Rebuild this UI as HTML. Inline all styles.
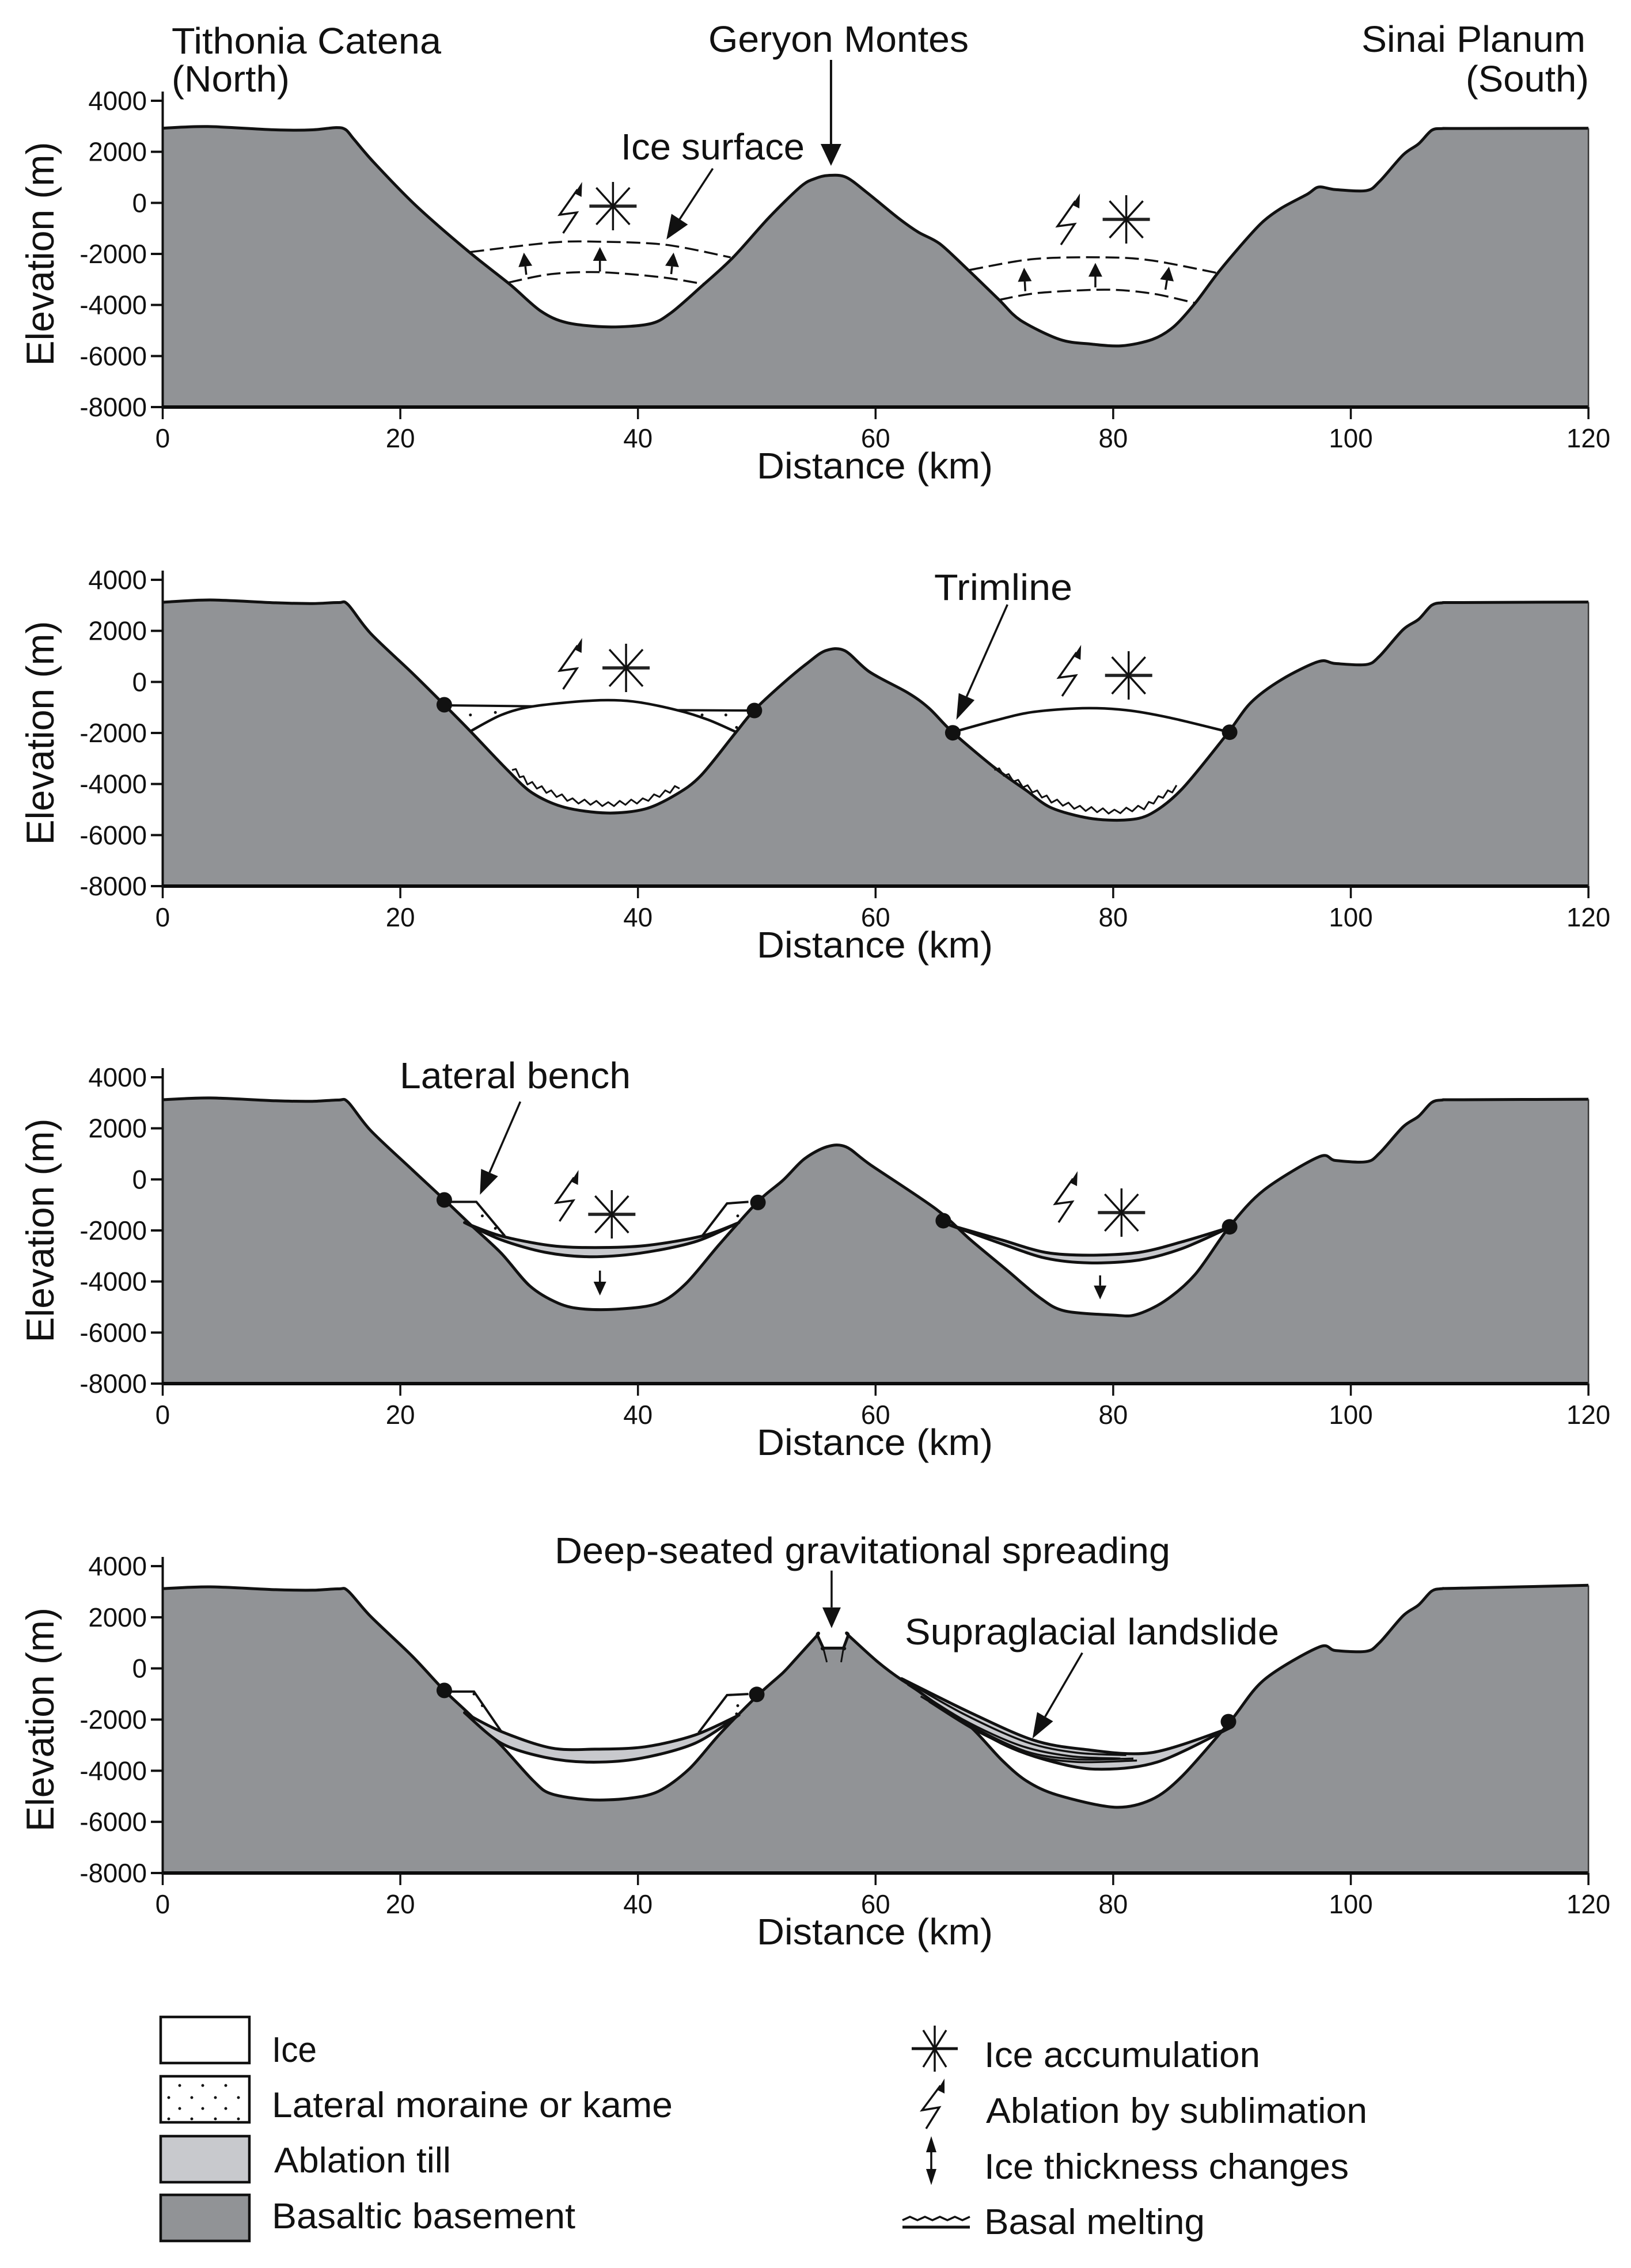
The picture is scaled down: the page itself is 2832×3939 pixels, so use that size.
<!DOCTYPE html>
<html lang="en">
<head>
<meta charset="utf-8">
<title>Geryon Montes glacial cross-sections</title>
<style>
html,body{margin:0;padding:0;background:#fff}
svg{display:block}
text{font-family:"Liberation Sans",sans-serif;fill:#111}
</style>
</head>
<body>
<svg id="figure" xmlns="http://www.w3.org/2000/svg" width="2832" height="3939" viewBox="0 0 2832 3939">
<rect width="2832" height="3939" fill="#fff"/>
<g id="charts"></g>

<g font-size="64">
<text x="298" y="93" textLength="468" lengthAdjust="spacingAndGlyphs">Tithonia Catena</text>
<text x="298" y="159" textLength="205" lengthAdjust="spacingAndGlyphs">(North)</text>
<text x="1230" y="90" textLength="452" lengthAdjust="spacingAndGlyphs">Geryon Montes</text>
<text x="2364" y="90" textLength="389" lengthAdjust="spacingAndGlyphs">Sinai Planum</text>
<text x="2545" y="159" textLength="214" lengthAdjust="spacingAndGlyphs">(South)</text>
<text x="1078" y="277" textLength="319" lengthAdjust="spacingAndGlyphs">Ice surface</text>
<text x="1622" y="1042" textLength="240" lengthAdjust="spacingAndGlyphs">Trimline</text>
<text x="694" y="1890" textLength="401" lengthAdjust="spacingAndGlyphs">Lateral bench</text>
<text x="963" y="2715" textLength="1069" lengthAdjust="spacingAndGlyphs">Deep-seated gravitational spreading</text>
<text x="1571" y="2856" textLength="650" lengthAdjust="spacingAndGlyphs">Supraglacial landslide</text>
</g>

<g font-size="62">
<rect x="279" y="3503" width="154" height="80" fill="#fff" stroke="#111" stroke-width="4.5"/>
<rect x="279" y="3606" width="154" height="80" fill="#fff" stroke="#111" stroke-width="4.5"/>
<g fill="#111">
<circle cx="312" cy="3622" r="2.5"/><circle cx="352" cy="3622" r="2.5"/><circle cx="392" cy="3622" r="2.5"/>
<circle cx="293" cy="3643" r="2.5"/><circle cx="333" cy="3643" r="2.5"/><circle cx="374" cy="3643" r="2.5"/><circle cx="414" cy="3643" r="2.5"/>
<circle cx="312" cy="3662" r="2.5"/><circle cx="352" cy="3662" r="2.5"/><circle cx="392" cy="3662" r="2.5"/>
<circle cx="293" cy="3680" r="2.5"/><circle cx="333" cy="3680" r="2.5"/><circle cx="374" cy="3680" r="2.5"/><circle cx="414" cy="3680" r="2.5"/>
</g>
<rect x="279" y="3710" width="154" height="80" fill="#c8c9cd" stroke="#111" stroke-width="4.5"/>
<rect x="279" y="3812" width="154" height="80" fill="#919396" stroke="#111" stroke-width="4.5"/>
<text x="472" y="3581" textLength="78" lengthAdjust="spacingAndGlyphs">Ice</text>
<text x="472" y="3677" textLength="696" lengthAdjust="spacingAndGlyphs">Lateral moraine or kame</text>
<text x="476" y="3773" textLength="307" lengthAdjust="spacingAndGlyphs">Ablation till</text>
<text x="472" y="3870" textLength="527" lengthAdjust="spacingAndGlyphs">Basaltic basement</text>

<g stroke="#111" stroke-width="3.5" fill="none">
<line x1="1583" y1="3558" x2="1663" y2="3558" stroke-width="5"/><line x1="1623" y1="3518" x2="1623" y2="3598"/>
<line x1="1603" y1="3526" x2="1643" y2="3590"/><line x1="1643" y1="3526" x2="1603" y2="3590"/>
</g>
<g>
<polyline points="1608,3697 1631,3660 1601,3665 1633,3622" fill="none" stroke="#111" stroke-width="3.5"/>
<polygon points="1640,3610 1640,3636 1628,3630" fill="#111"/>
</g>
<g>
<line x1="1617" y1="3725" x2="1617" y2="3780" stroke="#111" stroke-width="3.5"/>
<polygon points="1617,3710 1626,3738 1608,3738" fill="#111"/><polygon points="1617,3795 1626,3767 1608,3767" fill="#111"/>
</g>
<g fill="none" stroke="#111">
<polyline points="1567,3856 1580,3850 1593,3856 1606,3850 1619,3856 1632,3850 1645,3856 1658,3850 1671,3856 1684,3850" stroke-width="3.5"/>
<line x1="1567" y1="3868" x2="1684" y2="3868" stroke-width="5"/>
</g>
<text x="1709" y="3590" textLength="479" lengthAdjust="spacingAndGlyphs">Ice accumulation</text>
<text x="1712" y="3687" textLength="662" lengthAdjust="spacingAndGlyphs">Ablation by sublimation</text>
<text x="1709" y="3784" textLength="633" lengthAdjust="spacingAndGlyphs">Ice thickness changes</text>
<text x="1709" y="3880" textLength="383" lengthAdjust="spacingAndGlyphs">Basal melting</text>
</g>
</svg>

<script>
/* ---------- shared axis values ---------- */
const xTickValues = [0, 20, 40, 60, 80, 100, 120];
const yTickValues = [4000, 2000, 0, -2000, -4000, -6000, -8000];
const xTickLabels = ['0', '20', '40', '60', '80', '100', '120'];
const yTickLabels = ['4000', '2000', '0', '-2000', '-4000', '-6000', '-8000'];

/* ---------- panel 1 ---------- */
const p1Km = [0,3.8,9.5,12.6,14.6,15.4,16.1,17.8,21.3,25.7,29.2,31.8,34,37.5,41,42.8,45.4,48,51,53.7,54.9,56,57.5,59.3,61.9,63.6,65.4,67.8,70.4,72.2,75.5,78.1,80.7,83.3,85.1,86.9,88.8,90.8,92.5,94.1,96.3,97.3,98.7,101.3,102.4,104.4,105.7,106.8,107.7,109,120];
const p1Elev = [2926,2990,2860,2860,2950,2870,2490,1570,-100,-1890,-3185,-4230,-4690,-4860,-4740,-4300,-3250,-2140,-590,640,950,1075,1010,395,-590,-1150,-1600,-2630,-3800,-4600,-5350,-5530,-5600,-5350,-4850,-3930,-2750,-1640,-780,-220,330,620,520,480,830,1880,2310,2840,2910,2915,2925];
const p1UpperLeftKm = [25.9,32.7,36.6,42.3,47.8];
const p1UpperLeftElev = [-1926,-1555,-1520,-1640,-2135];
const p1LowerLeftKm = [29.1,32.7,36.8,41.9,45.6];
const p1LowerLeftElev = [-3120,-2790,-2716,-2910,-3185];
const p1UpperRightKm = [67.9,73.3,79.4,83.3,88.8];
const p1UpperRightElev = [-2630,-2200,-2135,-2260,-2750];
const p1LowerRightKm = [70.4,73.7,79.4,83.3,86.9];
const p1LowerRightElev = [-3800,-3530,-3400,-3555,-3925];
const p1RiseFromKm = [30.6,36.8,42.8,72.6,78.5,84.4];
const p1RiseFromElev = [-2815,-2690,-2790,-3460,-3310,-3400];
const p1RiseToKm = [30.4,36.8,43,72.5,78.5,84.7];
const p1RiseToElev = [-1950,-1730,-1950,-2540,-2350,-2500];

/* ---------- panel 2 ---------- */
const p2Km = [0,4,9.5,12.6,14.8,15.6,17.5,21,23.7,25.9,29,31.1,33.8,37.4,40.6,43.2,45.3,48.2,49.8,52.2,54.3,55.8,57.4,59.5,62.7,64.5,66.5,70,72.7,74.8,78,81.1,83.2,85.8,89.5,91.6,94.2,97.3,98.7,101.3,102.4,104.4,105.7,106.8,107.7,109,120];
const p2Elev = [3120,3210,3100,3070,3110,3030,1900,350,-895,-1932,-3444,-4346,-4910,-5136,-4978,-4414,-3670,-2000,-1098,-60,750,1225,1225,390,-420,-1030,-1978,-3354,-4256,-4933,-5340,-5407,-5158,-4190,-2090,-805,98,800,720,680,1000,2050,2450,3000,3100,3110,3130];
const p2IceLeftKm = [25.9,28.5,31.2,36.2,39.6,43.3,45.9,48.3];
const p2IceLeftElev = [-1933,-1294,-956,-730,-767,-1106,-1482,-1971];
const p2IceRightKm = [66.5,70,73.2,77.4,81.1,84.8,89.8];
const p2IceRightElev = [-1970,-1520,-1181,-1031,-1106,-1407,-1971];
const p2MoraineLeftKm = [23.8,31.2];
const p2MoraineLeftElev = [-918,-956];
const p2MoraineRightKm = [43.3,49.6];
const p2MoraineRightElev = [-1106,-1121];
const p2MeltLeftKm = [29.4,30.7,32.7,34.5,37.5,40.4,42.3,43.9];
const p2MeltLeftElev = [-3362,-3926,-4340,-4650,-4800,-4650,-4340,-4001];
const p2MeltRightKm = [70,72.4,74.8,77.2,80.1,82.6,84.6,85.7];
const p2MeltRightElev = [-3362,-4039,-4640,-4941,-5092,-4904,-4340,-4039];
const p2DotKm = [23.7,49.8,66.5,89.8];
const p2DotElev = [-895,-1121,-1993,-1971];
const p2GrainKm = [25.9,28,45.4,47.4,48.3];
const p2GrainElev = [-1294,-1196,-1294,-1294,-1783];

/* ---------- panel 3 ---------- */
const p3Km = [0,4,9.5,12.6,14.8,15.6,17.5,21,23.7,25.9,28.5,30.9,33.3,35.4,38.5,41.7,44,46.9,50.1,52.2,54,55.9,57.5,59.6,65.1,68,71.1,73.8,75.9,80.1,81.9,84.3,86.9,89.8,92.7,97.3,98.7,101.3,102.4,104.4,105.7,106.8,107.7,109,120];
const p3Elev = [3120,3190,3080,3060,3110,3030,1917,380,-790,-1768,-2896,-4174,-4851,-5077,-5077,-4851,-4099,-2520,-866,-38,800,1278,1278,563,-1166,-2370,-3573,-4626,-5152,-5317,-5302,-4776,-3723,-1843,-414,880,740,690,1020,2060,2470,3010,3110,3120,3140];
const p3TillTopLeftKm = [25.4,28.5,32.7,36.4,40.6,45.4,48.5];
const p3TillTopLeftElev = [-1693,-2219,-2595,-2670,-2595,-2219,-1693];
const p3TillBaseLeftKm = [25.4,28.5,32.2,35.9,40.1,44.8,48.5];
const p3TillBaseLeftElev = [-1693,-2370,-2858,-3031,-2896,-2445,-1693];
const p3TillTopRightKm = [66.1,70.6,74.3,78,82.2,85.8,89.8];
const p3TillTopRightElev = [-1768,-2370,-2859,-2971,-2859,-2445,-1881];
const p3TillBaseRightKm = [66.1,70.6,74.3,78,82.2,85.8,89.8];
const p3TillBaseRightElev = [-1768,-2520,-3084,-3272,-3159,-2708,-1881];
const p3BenchLeftKm = [24.3,26.4,28.8];
const p3BenchLeftElev = [-881,-881,-2219];
const p3BenchRightKm = [49.3,47.5,45.4];
const p3BenchRightElev = [-881,-941,-2219];
const p3DotKm = [23.7,50.1,65.7,89.8];
const p3DotElev = [-805,-903,-1618,-1858];
const p3GrainKm = [26.9,28,48.4];
const p3GrainElev = [-1430,-1919,-1430];
const p3DropKm = [36.8,78.9];
const p3DropFromElev = [-3573,-3761];
const p3DropToElev = [-4550,-4701];

/* ---------- panel 4 ---------- */
const p4Km = [0,4,9.5,12.6,14.8,15.6,17.5,21,23.7,25.9,28.5,31.2,32.7,35.9,39.1,41.7,44.3,46.9,50.1,52.2,53.3,55.1,55.1,55.6,55.6,57.3,57.3,57.7,57.7,60.1,62.2,65.1,68,70.6,72.7,75.3,80.1,83.2,85.8,89.8,92.7,97.3,98.7,101.3,102.4,104.4,105.7,106.8,107.7,109,120];
const p4Elev = [3120,3190,3080,3060,3110,3030,2034,480,-860,-1825,-3020,-4398,-4903,-5133,-5087,-4811,-3938,-2560,-1044,-171,380,1299,1299,794,794,794,794,1299,1299,288,-447,-1274,-2284,-3571,-4398,-4949,-5427,-5133,-4214,-2100,-447,830,700,670,1000,2060,2480,3020,3120,3135,3250];
const p4TillTopLeftKm = [25.4,28.5,32.7,36.4,40.6,44.8,48.5];
const p4TillTopLeftElev = [-1733,-2468,-3111,-3157,-3065,-2606,-1825];
const p4TillBaseLeftKm = [25.4,28.5,32.2,35.9,40.1,44.8,48.5];
const p4TillBaseLeftElev = [-1733,-2927,-3479,-3663,-3525,-2927,-1825];
const p4TillTopRightKm = [62.2,68,73.2,77.4,83.2,89.8];
const p4TillTopRightElev = [-401,-1733,-2790,-3157,-3295,-2330];
const p4TillBaseRightKm = [62.2,65.9,70.6,74.3,78.5,83.7,89.8];
const p4TillBaseRightElev = [-401,-1641,-2927,-3571,-3938,-3663,-2330];
const p4Slide1Km = [62.2,67.4,72.7,76.9,81.1];
const p4Slide1Elev = [-401,-1779,-2881,-3295,-3387];
const p4Slide2Km = [62.7,67.4,72.2,76.4,80.6];
const p4Slide2Elev = [-631,-2009,-3020,-3433,-3525];
const p4Slide3Km = [63.8,68,72.7,76.9,81.7];
const p4Slide3Elev = [-1090,-2238,-3249,-3553,-3525];
const p4Slide4Km = [64.5,68.5,73,77,82];
const p4Slide4Elev = [-1300,-2450,-3370,-3660,-3600];
const p4BenchLeftKm = [24.3,26.2,28.5];
const p4BenchLeftElev = [-906,-906,-2468];
const p4BenchRightKm = [49.3,47.5,45.1];
const p4BenchRightElev = [-1000,-1044,-2514];
const p4DotKm = [23.7,50,89.7];
const p4DotElev = [-860,-1016,-2082];
const p4GrainKm = [26.2,26.9,48.4,48.3];
const p4GrainElev = [-1000,-1457,-1457,-1779];
const p4FaultLeftKm = [55.6,55.9];
const p4FaultRightKm = [57.3,57.1];
const p4FaultElev = [794,242];

/* ---------- process symbols ---------- */
const p1StarKm = [37.9,81.1];
const p1StarElev = [-128,-647];
const p1BoltKm = [33.7,75.6];
const p1BoltElev = [-1188,-1640];
const p2StarKm = [39,81.3];
const p2StarElev = [549,255];
const p2BoltKm = [33.7,75.7];
const p2BoltElev = [-286,-557];
const p3StarKm = [37.8,80.7];
const p3StarElev = [-1369,-1301];
const p3BoltKm = [33.4,75.4];
const p3BoltElev = [-1640,-1685];

/* ---------- axis scales ---------- */
const NS = 'http://www.w3.org/2000/svg';
const root = document.getElementById('charts');
const panelTop = [175, 1007, 1871, 2720];
const panelBottom = [707, 1539, 2403, 3253];
const xScale = km => 282.5 + km * 20.63;
const yScale = (p, elev) => panelTop[p] + (4000 - elev) * (panelBottom[p] - panelTop[p]) / 12000;

function el(tag, attrs, parent) {
  const n = document.createElementNS(NS, tag);
  for (const k in attrs) n.setAttribute(k, attrs[k]);
  (parent || root).appendChild(n);
  return n;
}
function curve(p, kms, elevs) {
  const pts = kms.map((k, i) => [xScale(k), yScale(p, elevs[i])]);
  let d = 'M' + pts[0][0].toFixed(1) + ' ' + pts[0][1].toFixed(1);
  const t = 6.5;
  for (let i = 0; i < pts.length - 1; i++) {
    const a = pts[Math.max(0, i - 1)], b = pts[i], c = pts[i + 1], e = pts[Math.min(pts.length - 1, i + 2)];
    d += ' C' + (b[0] + (c[0] - a[0]) / t).toFixed(1) + ' ' + (b[1] + (c[1] - a[1]) / t).toFixed(1) + ' ' +
         (c[0] - (e[0] - b[0]) / t).toFixed(1) + ' ' + (c[1] - (e[1] - b[1]) / t).toFixed(1) + ' ' +
         c[0].toFixed(1) + ' ' + c[1].toFixed(1);
  }
  return d;
}
function straight(p, kms, elevs) {
  return 'M' + kms.map((k, i) => xScale(k).toFixed(1) + ' ' + yScale(p, elevs[i]).toFixed(1)).join(' L');
}
function arrow(parent, x1, y1, x2, y2, len, wid, sw) {
  const a = Math.atan2(y2 - y1, x2 - x1), ux = Math.cos(a), uy = Math.sin(a);
  const bx = x2 - ux * len, by = y2 - uy * len;
  el('line', {x1: x1, y1: y1, x2: bx, y2: by, stroke: '#111', 'stroke-width': sw}, parent);
  el('polygon', {points: x2 + ',' + y2 + ' ' + (bx - uy * wid / 2) + ',' + (by + ux * wid / 2) + ' ' + (bx + uy * wid / 2) + ',' + (by - ux * wid / 2), fill: '#111'}, parent);
}
function star(parent, cx, cy) {
  el('line', {x1: cx - 41, y1: cy, x2: cx + 41, y2: cy, stroke: '#222', 'stroke-width': 5.5}, parent);
  el('line', {x1: cx, y1: cy - 42, x2: cx, y2: cy + 42, stroke: '#111', 'stroke-width': 3.5}, parent);
  el('line', {x1: cx - 29, y1: cy - 32, x2: cx + 29, y2: cy + 32, stroke: '#111', 'stroke-width': 3.5}, parent);
  el('line', {x1: cx + 29, y1: cy - 32, x2: cx - 29, y2: cy + 32, stroke: '#111', 'stroke-width': 3.5}, parent);
}
function bolt(parent, bx, by) {
  el('polyline', {points: bx + ',' + by + ' ' + (bx + 24) + ',' + (by - 36) + ' ' + (bx - 6) + ',' + (by - 32) + ' ' + (bx + 25) + ',' + (by - 76), fill: 'none', stroke: '#111', 'stroke-width': 3.5}, parent);
  el('polygon', {points: (bx + 33) + ',' + (by - 89) + ' ' + (bx + 32) + ',' + (by - 63) + ' ' + (bx + 20) + ',' + (by - 69), fill: '#111'}, parent);
}
function wavy(parent, p, kms, elevs) {
  const pts = kms.map((k, i) => [xScale(k), yScale(p, elevs[i])]);
  let out = '', sign = 1;
  for (let i = 0; i < pts.length - 1; i++) {
    const dx = pts[i + 1][0] - pts[i][0], dy = pts[i + 1][1] - pts[i][1], L = Math.hypot(dx, dy);
    const n = Math.max(1, Math.round(L / 10));
    for (let j = 0; j < n; j++) {
      const f = j / n;
      out += (pts[i][0] + dx * f).toFixed(1) + ',' + (pts[i][1] + dy * f + sign * 4).toFixed(1) + ' ';
      sign = -sign;
    }
  }
  return el('polyline', {points: out, fill: 'none', stroke: '#111', 'stroke-width': 3, 'stroke-linejoin': 'round'}, parent);
}
function till(parent, p, topKm, topElev, baseKm, baseElev) {
  const a = curve(p, topKm, topElev);
  const revKm = baseKm.slice().reverse(), revElev = baseElev.slice().reverse();
  const b = curve(p, revKm, revElev);
  return el('path', {d: a + ' L' + b.slice(1) + ' Z', fill: '#c8c9cd', stroke: '#111', 'stroke-width': 5, 'stroke-linejoin': 'round'}, parent);
}
function dots(parent, p, kms, elevs, r) {
  kms.forEach((k, i) => {
    const c = el('circle', {cx: xScale(k), cy: yScale(p, elevs[i]), r: r, fill: '#111'}, parent);
    
    
  });
}

/* ---------- base panel: basement + axes ---------- */
function basePanel(p, kms, elevs) {
  const g = el('g', {});
  
  
  const top = curve(p, kms, elevs);
  const fill = el('path', {d: top + ' L' + xScale(120) + ' ' + yScale(p, -8000) + ' L' + xScale(0) + ' ' + yScale(p, -8000) + ' Z', fill: '#919396'}, g);
  
  
  const line = el('path', {d: top, fill: 'none', stroke: '#111', 'stroke-width': 5, 'stroke-linejoin': 'round'}, g);
  
  
  const yAxis = el('line', {x1: xScale(0), y1: yScale(p, 4000) - 16, x2: xScale(0), y2: yScale(p, -8000), stroke: '#111', 'stroke-width': 4}, g);
  
  
  const xAxis = el('line', {x1: xScale(0) - 2, y1: yScale(p, -8000), x2: xScale(120) + 1, y2: yScale(p, -8000), stroke: '#0c0c0c', 'stroke-width': 6}, g);
  
  
  const edge = el('line', {x1: xScale(120), y1: yScale(p, elevs[elevs.length - 1]), x2: xScale(120), y2: yScale(p, -8000), stroke: '#333', 'stroke-width': 2.5}, g);
  
  
  yTickValues.forEach((v, i) => {
    const y = yScale(p, v);
    const tick = el('line', {x1: 262, y1: y, x2: xScale(0), y2: y, stroke: '#111', 'stroke-width': 4}, g);
    
    
    const lab = yTickLabels[i];
    const t = el('text', {x: 255, y: y + 16, 'font-size': 46, 'text-anchor': 'end', textLength: (lab.replace('-', '').length * 25.4 + (lab[0] === '-' ? 15 : 0)), lengthAdjust: 'spacingAndGlyphs'}, g);
    t.textContent = lab;
    
    
  });
  xTickValues.forEach((v, i) => {
    const x = xScale(v), y = yScale(p, -8000);
    const tick = el('line', {x1: x, y1: y, x2: x, y2: y + 21, stroke: '#111', 'stroke-width': 3.5}, g);
    
    
    const t = el('text', {x: x, y: y + 70, 'font-size': 46, 'text-anchor': 'middle', textLength: xTickLabels[i].length * 25.4, lengthAdjust: 'spacingAndGlyphs'}, g);
    t.textContent = xTickLabels[i];
    
    
  });
  const xt = el('text', {x: 1314, y: yScale(p, -8000) + 124, 'font-size': 64, textLength: 410, lengthAdjust: 'spacingAndGlyphs'}, g);
  xt.textContent = 'Distance (km)';
  
  
  const cy = (yScale(p, 4000) + yScale(p, -8000)) / 2;
  const yt = el('text', {x: 0, y: 0, 'font-size': 68, 'text-anchor': 'middle', textLength: 389, lengthAdjust: 'spacingAndGlyphs', transform: 'translate(93 ' + cy + ') rotate(-90)'}, g);
  yt.textContent = 'Elevation (m)';
  
  
  return g;
}
function symbols(g, p, starKm, starElev, boltKm, boltElev) {
  starKm.forEach((k, i) => {
    const s = el('g', {}, g);
    
    
    star(s, xScale(k), yScale(p, starElev[i]));
  });
  boltKm.forEach((k, i) => {
    const s = el('g', {}, g);
    
    
    bolt(s, xScale(k), yScale(p, boltElev[i]));
  });
}
function stroke(g, p, kms, elevs, name, extra) {
  const a = {d: curve(p, kms, elevs), fill: 'none', stroke: '#111', 'stroke-width': 4.5};
  for (const k in extra) a[k] = extra[k];
  const n = el('path', a, g);
  
  
  return n;
}
function bench(g, p, kms, elevs, name) {
  const n = el('path', {d: straight(p, kms, elevs), fill: 'none', stroke: '#111', 'stroke-width': 4, 'stroke-linejoin': 'miter'}, g);
  
  
  return n;
}
function callout(g, p, km1, e1, km2, e2, len, wid, name, sw) {
  const a = el('g', {}, g);
  
  
  arrow(a, xScale(km1), yScale(p, e1), xScale(km2), yScale(p, e2), len, wid, sw || 3.5);
}

/* ---------- panel 1 marks ---------- */
(function () {
  const p = 0, g = basePanel(p, p1Km, p1Elev);
  const dash = {'stroke-dasharray': '24 10', 'stroke-width': 3.5};
  stroke(g, p, p1UpperLeftKm, p1UpperLeftElev, 'ice-surface-upper-left', dash);
  stroke(g, p, p1LowerLeftKm, p1LowerLeftElev, 'ice-surface-lower-left', dash);
  stroke(g, p, p1UpperRightKm, p1UpperRightElev, 'ice-surface-upper-right', dash);
  stroke(g, p, p1LowerRightKm, p1LowerRightElev, 'ice-surface-lower-right', dash);
  p1RiseFromKm.forEach((k, i) => {
    callout(g, p, k, p1RiseFromElev[i], p1RiseToKm[i], p1RiseToElev[i], 24, 24, 'ice-thickening-arrow', 3.5);
  });
  symbols(g, p, p1StarKm, p1StarElev, p1BoltKm, p1BoltElev);
  callout(g, p, 56.25, 5602, 56.25, 1451, 38, 36, 'geryon-montes-arrow', 4);
  callout(g, p, 46.3, 1346, 42.4, -1432, 42, 34, 'ice-surface-arrow');
})();

/* ---------- panel 2 marks ---------- */
(function () {
  const p = 1, g = basePanel(p, p2Km, p2Elev);
  stroke(g, p, p2IceLeftKm, p2IceLeftElev, 'ice-surface-left');
  stroke(g, p, p2IceRightKm, p2IceRightElev, 'ice-surface-right');
  bench(g, p, p2MoraineLeftKm, p2MoraineLeftElev, 'moraine-top-left');
  bench(g, p, p2MoraineRightKm, p2MoraineRightElev, 'moraine-top-right');
  const w1 = wavy(g, p, p2MeltLeftKm, p2MeltLeftElev);
  
  
  const w2 = wavy(g, p, p2MeltRightKm, p2MeltRightElev);
  
  
  dots(g, p, p2GrainKm, p2GrainElev, 2.5);
  dots(g, p, p2DotKm, p2DotElev, 13.5);
  symbols(g, p, p2StarKm, p2StarElev, p2BoltKm, p2BoltElev);
  callout(g, p, 71.1, 3030, 66.8, -1482, 44, 30, 'trimline-arrow');
})();

/* ---------- panel 3 marks ---------- */
(function () {
  const p = 2, g = basePanel(p, p3Km, p3Elev);
  bench(g, p, p3BenchLeftKm, p3BenchLeftElev, 'lateral-bench-left');
  bench(g, p, p3BenchRightKm, p3BenchRightElev, 'lateral-bench-right');
  const a = till(g, p, p3TillTopLeftKm, p3TillTopLeftElev, p3TillBaseLeftKm, p3TillBaseLeftElev);
  
  
  const b = till(g, p, p3TillTopRightKm, p3TillTopRightElev, p3TillBaseRightKm, p3TillBaseRightElev);
  
  
  dots(g, p, p3GrainKm, p3GrainElev, 2.5);
  dots(g, p, p3DotKm, p3DotElev, 13.5);
  symbols(g, p, p3StarKm, p3StarElev, p3BoltKm, p3BoltElev);
  p3DropKm.forEach((k, i) => {
    callout(g, p, k, p3DropFromElev[i], k, p3DropToElev[i], 24, 22, 'ice-thinning-arrow');
  });
  callout(g, p, 30.1, 3045, 26.7, -602, 42, 32, 'lateral-bench-arrow');
})();

/* ---------- panel 4 marks ---------- */
(function () {
  const p = 3, g = basePanel(p, p4Km, p4Elev);
  bench(g, p, p4BenchLeftKm, p4BenchLeftElev, 'lateral-bench-left');
  bench(g, p, p4BenchRightKm, p4BenchRightElev, 'lateral-bench-right');
  const a = till(g, p, p4TillTopLeftKm, p4TillTopLeftElev, p4TillBaseLeftKm, p4TillBaseLeftElev);
  
  
  const b = till(g, p, p4TillTopRightKm, p4TillTopRightElev, p4TillBaseRightKm, p4TillBaseRightElev);
  
  
  stroke(g, p, p4Slide1Km, p4Slide1Elev, 'landslide-layer', {'stroke-width': 3.5});
  stroke(g, p, p4Slide2Km, p4Slide2Elev, 'landslide-layer', {'stroke-width': 3.5});
  stroke(g, p, p4Slide3Km, p4Slide3Elev, 'landslide-layer', {'stroke-width': 3.5});
  stroke(g, p, p4Slide4Km, p4Slide4Elev, 'landslide-layer', {'stroke-width': 3.5});
  stroke(g, p, p4FaultLeftKm, p4FaultElev, 'fault-left', {'stroke-width': 3});
  stroke(g, p, p4FaultRightKm, p4FaultElev, 'fault-right', {'stroke-width': 3});
  dots(g, p, p4GrainKm, p4GrainElev, 2.5);
  dots(g, p, p4DotKm, p4DotElev, 13.5);
  callout(g, p, 56.3, 3826, 56.3, 1575, 36, 32, 'gravitational-spreading-arrow');
  callout(g, p, 77.4, 610, 73.2, -2744, 44, 32, 'supraglacial-landslide-arrow');
})();
</script>
</body>
</html>
